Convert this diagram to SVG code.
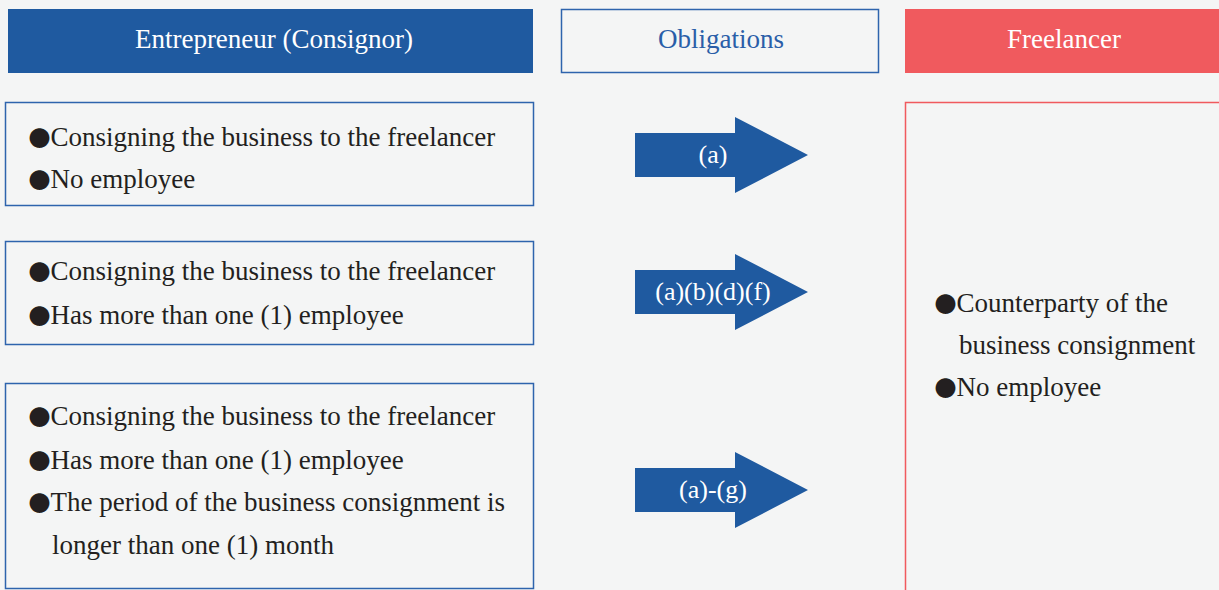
<svg xmlns="http://www.w3.org/2000/svg" width="1219" height="590" viewBox="0 0 1219 590">
<style>
text{font-family:'Liberation Serif','Times New Roman','DejaVu Serif',serif}
.t{font-size:27px;fill:#231f20}
.b{font-family:'Noto Sans CJK JP','DejaVu Sans',sans-serif;font-size:22px}
.h{font-size:27px;text-anchor:middle}
.a{font-size:26px;fill:#fff;text-anchor:middle}
.bb{fill:none;stroke:#2e64ad;stroke-width:1.5}
.arr{fill:#1f5aa0}
</style>
<rect width="1219" height="590" fill="#f4f5f5"/>
<g id="hdr-entrepreneur"><rect x="8" y="9" width="525" height="64" fill="#1f5aa0"/><text class="h" x="274" y="48" fill="#fff">Entrepreneur (Consignor)</text></g>
<g id="hdr-obligations"><rect x="561.5" y="9.5" width="317" height="63" fill="none" stroke="#2e64ad" stroke-width="1.5"/><text class="h" x="721" y="48" fill="#2a5ea8">Obligations</text></g>
<g id="hdr-freelancer"><rect x="905" y="9" width="314" height="64" fill="#f05a5e"/><text class="h" x="1064" y="48" fill="#fff">Freelancer</text></g>
<g id="case1"><rect class="bb" x="5.5" y="102.5" width="528" height="103"/>
<text class="t" x="28.5" y="146"><tspan class="b">●</tspan><tspan x="50.5">Consigning the business to the freelancer</tspan></text>
<text class="t" x="28.5" y="188"><tspan class="b">●</tspan><tspan x="50.5">No employee</tspan></text></g>
<g id="case2"><rect class="bb" x="5.5" y="241.5" width="528" height="103"/>
<text class="t" x="28.5" y="280"><tspan class="b">●</tspan><tspan x="50.5">Consigning the business to the freelancer</tspan></text>
<text class="t" x="28.5" y="324"><tspan class="b">●</tspan><tspan x="50.5">Has more than one (1) employee</tspan></text></g>
<g id="case3"><rect class="bb" x="5.5" y="383.5" width="528" height="205"/>
<text class="t" x="28.5" y="425"><tspan class="b">●</tspan><tspan x="50.5">Consigning the business to the freelancer</tspan></text>
<text class="t" x="28.5" y="469"><tspan class="b">●</tspan><tspan x="50.5">Has more than one (1) employee</tspan></text>
<text class="t" x="28.5" y="511"><tspan class="b">●</tspan><tspan x="50.5">The period of the business consignment is</tspan></text>
<text class="t" x="52" y="554">longer than one (1) month</text></g>
<g id="freelancer"><rect x="905.5" y="102.5" width="320" height="500" fill="none" stroke="#f05a5e" stroke-width="1.5"/>
<text class="t" x="934.5" y="312"><tspan class="b">●</tspan><tspan x="956.5">Counterparty of the</tspan></text>
<text class="t" x="959" y="354">business consignment</text>
<text class="t" x="934.5" y="396"><tspan class="b">●</tspan><tspan x="956.5">No employee</tspan></text></g>
<g id="connectors">
<g id="arrow1"><polygon class="arr" points="635,133 735,133 735,117 808,155 735,193 735,177 635,177"/><text class="a" x="713" y="163">(a)</text></g>
<g id="arrow2"><polygon class="arr" points="635,270 735,270 735,254 808,292 735,330 735,314 635,314"/><text class="a" x="713" y="300">(a)(b)(d)(f)</text></g>
<g id="arrow3"><polygon class="arr" points="635,468 735,468 735,452 808,490 735,528 735,512 635,512"/><text class="a" x="713" y="498">(a)-(g)</text></g>
</g>
</svg>
